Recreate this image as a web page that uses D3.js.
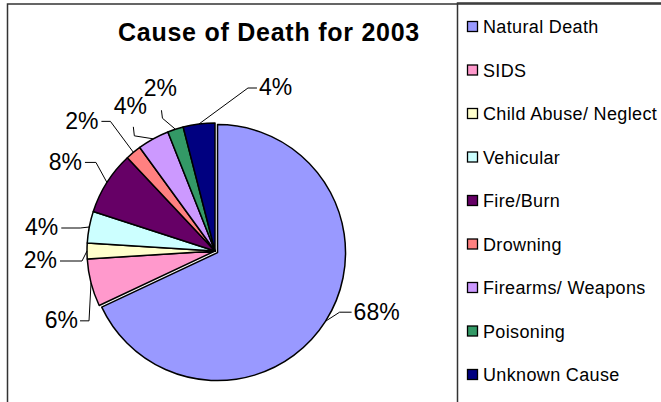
<!DOCTYPE html>
<html>
<head>
<meta charset="utf-8">
<script src="https://cdn.jsdelivr.net/npm/d3@7"></script>
<style>
  body { margin: 0; background: #fff; }
  text { font-family: Arial, "Liberation Sans", sans-serif; fill: #000; }
</style>
</head>
<body>
<div id="chart"></div>
<script>
const title = "Cause of Death for 2003";
const causes = ["Natural Death", "SIDS", "Child Abuse/ Neglect", "Vehicular", "Fire/Burn",
                "Drowning", "Firearms/ Weapons", "Poisoning", "Unknown Cause"];
const deaths = [34, 3, 1, 2, 4, 1, 2, 1, 2];
const colors = ["#9999FF", "#FF99CC", "#FFFFCC", "#CCFFFF", "#660066",
                "#FF8080", "#CC99FF", "#339966", "#000080"];

// hand placed labels like in the original sheet: offsets from the slice edge
// [text dx, text dy, anchor, elbow dx, elbow dy, line end dx, line end dy]
const labelLayout = [
    [28, -9, "start", 14, -9, 26, -9],
    [-13, 37, "end", -2, 38, -11, 38],
    [-30, 9, "end", -5, 10, -27, 10],
    [-31, 0, "end", -9, 1, -28, 1],
    [-25, -21, "end", -11, -20, -22, -20],
    [-35, -32, "end", -23, -31, -32, -31],
    [-23, -33, "middle", -19, -3, -20, -12],
    [-15, -42, "middle", -13, -11, -14, -19],
    [60, -37, "start", 49, -36, 58, -36]
];

const width = 661;
const height = 402;
const cx = 215, cy = 251, radius = 128;

const svg = d3.select("#chart")
    .append("svg")
    .attr("width", width)
    .attr("height", height);

// chart area border
svg.append("path")
    .attr("d", `M7.5,${height} V4 H${width}`)
    .attr("fill", "none")
    .attr("stroke", "#333")
    .attr("stroke-width", 1.5);

svg.append("text")
    .attr("x", 269)
    .attr("y", 41)
    .attr("text-anchor", "middle")
    .attr("font-size", 25)
    .attr("font-weight", "bold")
    .attr("letter-spacing", 0.75)
    .text(title);

const total = d3.sum(deaths);
const pie = d3.pie().sort(null).value(d => d);
const arcs = pie(deaths);
const arc = d3.arc().innerRadius(0).outerRadius(radius);

const g = svg.append("g").attr("transform", `translate(${cx},${cy})`);

// first slice pulled out a little
const explode = i => (i === 0 ? 3 : 0);
const shift = (d, i) => {
    const a = (d.startAngle + d.endAngle) / 2;
    return [Math.sin(a) * explode(i), -Math.cos(a) * explode(i)];
};

g.selectAll("path.slice")
    .data(arcs)
    .join("path")
    .attr("class", "slice")
    .attr("transform", (d, i) => `translate(${shift(d, i)})`)
    .attr("d", arc)
    .attr("fill", (d, i) => colors[i])
    .attr("stroke", "#000")
    .attr("stroke-width", 1.5)
    .attr("stroke-linejoin", "round");

// edge point at slice middle
const edge = (d, i) => {
    const a = (d.startAngle + d.endAngle) / 2;
    const s = shift(d, i);
    return [Math.sin(a) * radius + s[0], -Math.cos(a) * radius + s[1]];
};

g.selectAll("path.leader")
    .data(arcs)
    .join("path")
    .attr("class", "leader")
    .attr("fill", "none")
    .attr("stroke", "#000")
    .attr("stroke-width", 1)
    .attr("d", (d, i) => {
        const e = edge(d, i);
        const l = labelLayout[i];
        return d3.line()([e, [e[0] + l[3], e[1] + l[4]], [e[0] + l[5], e[1] + l[6]]]);
    });

g.selectAll("text.pct")
    .data(arcs)
    .join("text")
    .attr("class", "pct")
    .attr("x", (d, i) => edge(d, i)[0] + labelLayout[i][0])
    .attr("y", (d, i) => edge(d, i)[1] + labelLayout[i][1])
    .attr("dy", "0.36em")
    .attr("text-anchor", (d, i) => labelLayout[i][2])
    .attr("font-size", 23)
    .text(d => Math.round(d.value / total * 100) + "%");

// legend
const legend = svg.append("g");
legend.append("path")
    .attr("d", `M457.5,${height} V3 H${width}`)
    .attr("fill", "none")
    .attr("stroke", "#333")
    .attr("stroke-width", 1.5);

const rowY = d3.scalePoint().domain(causes).range([27, 375]);

const rows = legend.selectAll("g.row")
    .data(causes)
    .join("g")
    .attr("class", "row")
    .attr("transform", d => `translate(467,${rowY(d)})`);

rows.append("rect")
    .attr("x", 0.5)
    .attr("y", -5.5)
    .attr("width", 10)
    .attr("height", 10)
    .attr("fill", (d, i) => colors[i])
    .attr("stroke", "#000")
    .attr("stroke-width", 1.3);

rows.append("text")
    .attr("x", 16)
    .attr("dy", "0.36em")
    .attr("font-size", 18)
    .attr("letter-spacing", 0.35)
    .text(d => d);
</script>
</body>
</html>
